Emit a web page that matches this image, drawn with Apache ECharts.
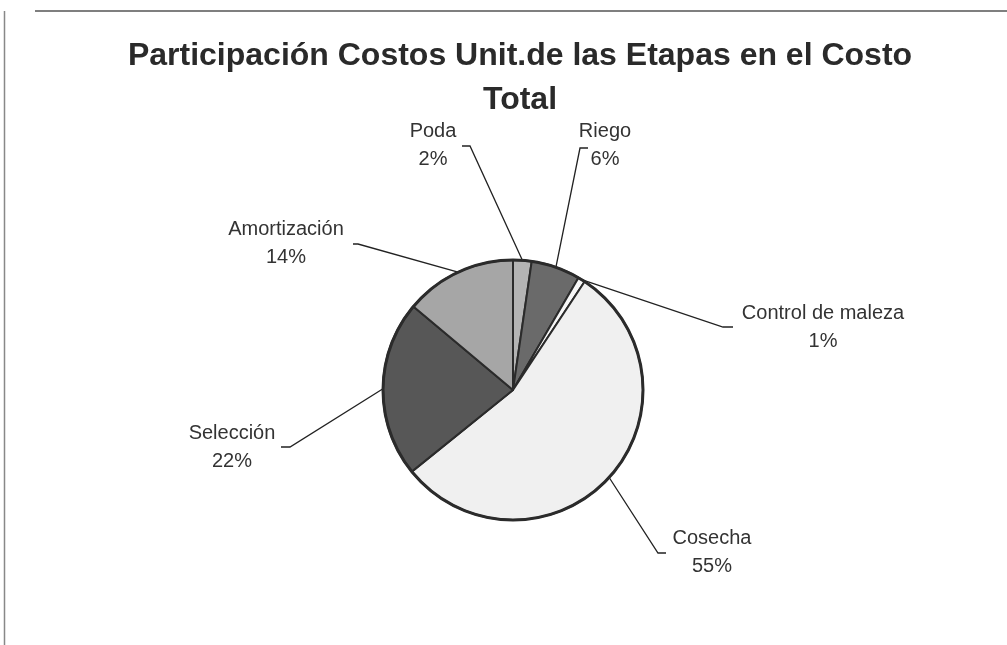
<!DOCTYPE html>
<html>
<head>
<meta charset="utf-8">
<script src="https://cdn.jsdelivr.net/npm/echarts@6/dist/echarts.min.js"></script>
<style>
html,body{margin:0;padding:0;background:#fff;}
#chart{width:1007px;height:645px;}
</style>
</head>
<body>
<div id="chart"></div>
<script>
// ---- data ----
var titleText = "Participación Costos Unit.de las Etapas en el Costo\nTotal";
var categories = ["Poda", "Riego", "Control de maleza", "Cosecha", "Selección", "Amortización"];
var values = [2.3, 6.1, 0.9, 54.9, 21.9, 13.9];

// ---- styles / layout (kept separate from data) ----
var sliceColors = ["#b4b4b4", "#6a6a6a", "#f7f7f7", "#f0f0f0", "#575757", "#a6a6a6"];
// label centre and leader-line bend/end points, per category
var labelPos = [
  {x: 433, y: 145, bend: [470, 146], end: [462, 146]},
  {x: 605, y: 145, bend: [580, 148], end: [588, 148]},
  {x: 823, y: 327, bend: [723, 327], end: [733, 327]},
  {x: 712, y: 552, bend: [658, 553], end: [666, 553]},
  {x: 232, y: 447, bend: [290, 447], end: [281, 447]},
  {x: 286, y: 243, bend: [358, 244], end: [353, 244]}
];
var pieCenter = [513, 390];
var pieRadius = 130;

var chart = echarts.init(document.getElementById('chart'), null, {renderer: 'canvas'});
var seriesData = categories.map(function (c, i) {
  return {name: c, value: values[i], itemStyle: {color: sliceColors[i]}};
});
chart.setOption({
  animation: false,
  backgroundColor: '#ffffff',
  title: {
    text: titleText,
    left: 515,
    textAlign: 'center',
    top: 29,
    textStyle: {
      fontFamily: 'Liberation Sans, Arial, sans-serif',
      fontSize: 32,
      fontWeight: 'bold',
      color: '#2a2a2a',
      lineHeight: 44
    }
  },
  graphic: [
    {type: 'line', shape: {x1: 35, y1: 11, x2: 1007, y2: 11}, style: {stroke: '#555', lineWidth: 1.5}},
    {type: 'line', shape: {x1: 4.5, y1: 11, x2: 4.5, y2: 645}, style: {stroke: '#888', lineWidth: 1.5}}
  ],
  series: [{
    type: 'pie',
    center: pieCenter,
    radius: pieRadius,
    startAngle: 90,
    clockwise: true,
    avoidLabelOverlap: false,
    data: seriesData,
    itemStyle: {borderColor: '#2b2b2b', borderWidth: 2},
    label: {
      show: true,
      position: 'outside',
      formatter: function (p) { return p.name + '\n' + Math.round(p.percent) + '%'; },
      fontFamily: 'Liberation Sans, Arial, sans-serif',
      fontSize: 20,
      lineHeight: 28,
      color: '#333333',
      align: 'center'
    },
    labelLine: {show: true, length: 20, length2: 20, smooth: false,
      lineStyle: {color: '#222', width: 1.3}},
    emphasis: {disabled: true}
  }, {
    // outer rim drawn a little heavier, as in the original
    type: 'pie',
    center: pieCenter,
    radius: pieRadius,
    silent: true,
    label: {show: false},
    labelLine: {show: false},
    data: [{value: 1, name: '', itemStyle: {color: 'rgba(0,0,0,0)', borderColor: '#2b2b2b', borderWidth: 3}}],
    emphasis: {disabled: true}
  }]
});
chart.setOption({
  series: [{
    labelLayout: function (params) {
      var lp = labelPos[params.dataIndex];
      var start = params.labelLinePoints ? params.labelLinePoints[0] : [lp.bend[0], lp.bend[1]];
      return {
        x: lp.x,
        y: lp.y,
        align: 'center',
        verticalAlign: 'middle',
        labelLinePoints: [start, lp.bend, lp.end]
      };
    }
  }]
});
</script>
</body>
</html>
